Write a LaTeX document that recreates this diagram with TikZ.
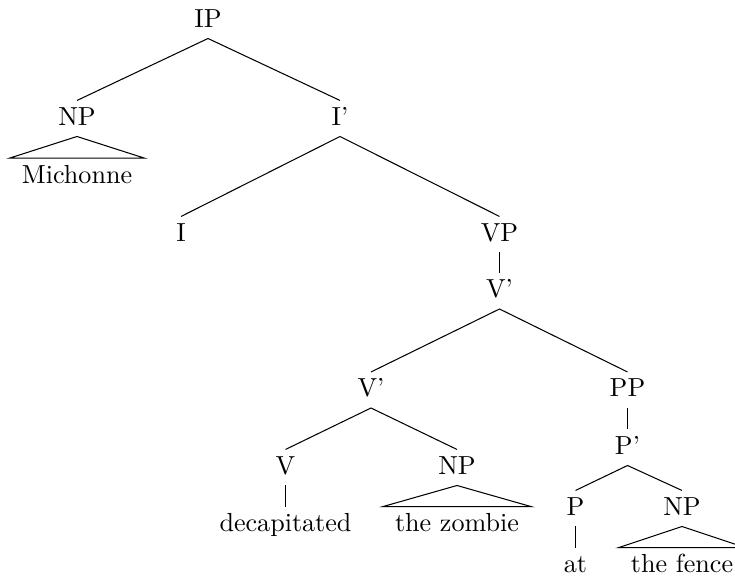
\documentclass[tikz,border=0pt]{standalone}
\begin{document}
\begin{tikzpicture}[x=0.3831pt, y=-0.3831pt,
  cat/.style={anchor=base, inner xsep=1pt, inner ysep=2.2pt, text height=7pt, text depth=2pt},
  word/.style={anchor=base, inner xsep=4.6pt, inner ysep=2.3pt, text height=7pt, text depth=2pt},
  edge/.style={line width=0.4pt},
  roof/.style={line width=0.4pt, line join=miter}]
\useasboundingbox (0,0) rectangle (735,579);

% category labels
\node[cat] (ip)   at (208,27)      {IP};
\node[cat] (np1)  at (77,125)      {NP};
\node[cat] (ibar) at (340,125)     {I'};
\node[cat] (i)    at (181,241)     {I};
\node[cat] (vp)   at (499.5,241)   {VP};
\node[cat] (vb1)  at (499.5,297.5) {V'};
\node[cat] (vb2)  at (371,396.5)   {V'};
\node[cat] (pp)   at (627.5,396.5) {PP};
\node[cat] (pbar) at (627.5,454)   {P'};
\node[cat] (v)    at (285.5,474)   {V};
\node[cat] (np2)  at (457,474)     {NP};
\node[cat] (p)    at (575.5,515)   {P};
\node[cat] (np3)  at (682,515)     {NP};

% words
\node[word] (w-mich)  at (77,183)      {Michonne};
\node[word] (w-decap) at (285.5,531.5) {decapitated};
\node[word] (w-zomb)  at (457,531.5)   {the zombie};
\node[word] (w-at)    at (575.5,572.5) {at};
\node[word] (w-fence) at (682,572.5)   {the fence};

% branches
\draw[edge] (np1.north) -- (ip.south) -- (ibar.north);
\draw[edge] (i.north) -- (ibar.south) -- (vp.north);
\draw[edge] (vp.south) -- (vb1.north);
\draw[edge] (vb2.north) -- (vb1.south) -- (pp.north);
\draw[edge] (v.north) -- (vb2.south) -- (np2.north);
\draw[edge] (pp.south) -- (pbar.north);
\draw[edge] (p.north) -- (pbar.south) -- (np3.north);
\draw[edge] (v.south) -- (w-decap.north);
\draw[edge] (p.south) -- (w-at.north);

% roofs over unanalysed phrases
\draw[roof] (np1.south) -- (w-mich.north east) -- (w-mich.north west) -- cycle;
\draw[roof] (np2.south) -- (w-zomb.north east) -- (w-zomb.north west) -- cycle;
\draw[roof] (np3.south) -- (w-fence.north east) -- (w-fence.north west) -- cycle;
\end{tikzpicture}
\end{document}
